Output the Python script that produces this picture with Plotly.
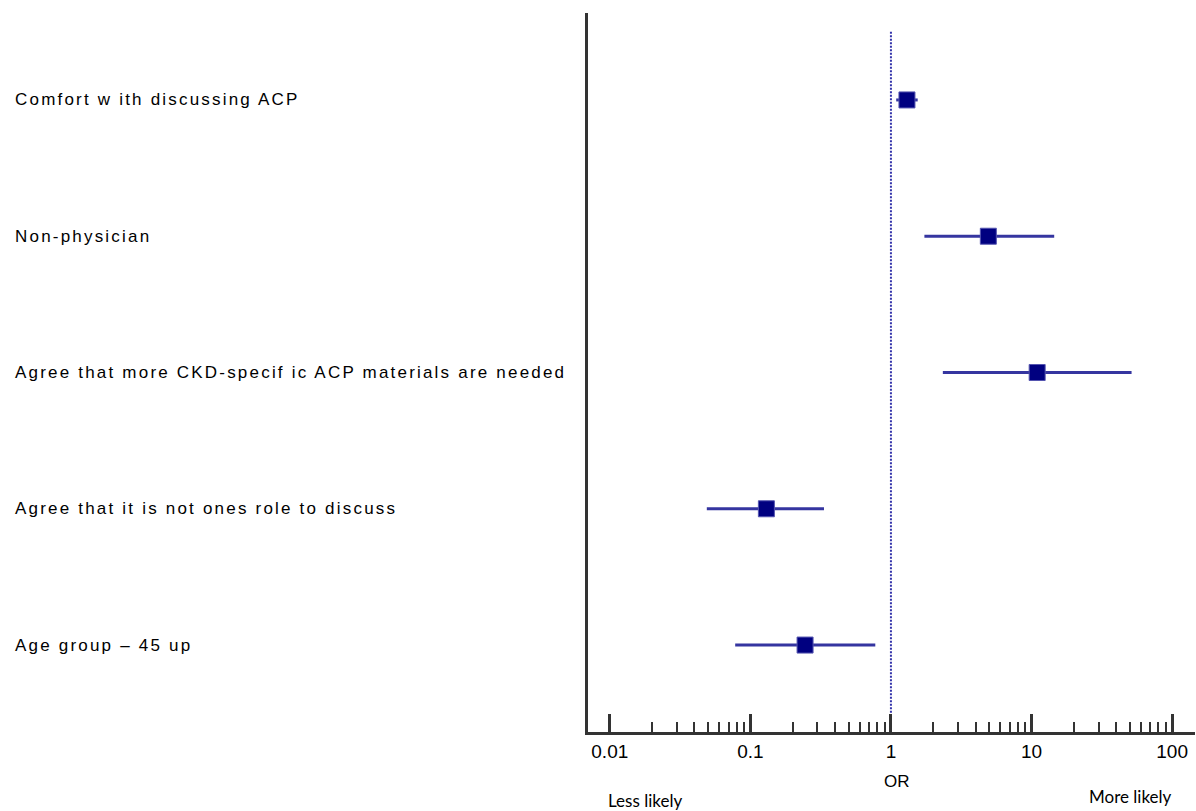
import plotly.graph_objects as go

# ---- data ----
labels = [
    "Comfort w ith discussing ACP",
    "Non-physician",
    "Agree that more CKD-specif ic ACP materials are needed",
    "Agree that it is not ones role to discuss",
    "Age group \u2013 45 up",
]
odds_ratio = [1.30, 4.93, 10.97, 0.130, 0.245]
ci_low = [1.09, 1.73, 2.34, 0.049, 0.078]
ci_high = [1.55, 14.5, 51.5, 0.334, 0.774]
row_pos = [5, 4, 3, 2, 1]

major_ticks = [0.01, 0.1, 1, 10, 100]
major_text = ["0.01", "0.1", "1", "10", "100"]
minor_ticks = [m * d for d in [0.01, 0.1, 1, 10] for m in range(2, 10)]
REF_OR = 1

AXIS_COL = "#333333"
BAR_COL = "#3535a0"
MARK_COL = "#000080"
LABEL_FONT = "Liberation Sans, Arial, sans-serif"

fig = go.Figure()

# reference line at OR = 1
fig.add_trace(go.Scatter(
    x=[REF_OR, REF_OR], y=[5.5, 0.362], mode="lines",
    line=dict(color="#3333aa", width=2, dash="2px,1.5px"),
    hoverinfo="skip", showlegend=False,
))

# CIs + point estimates
fig.add_trace(go.Scatter(
    x=odds_ratio, y=row_pos, mode="markers",
    marker=dict(symbol="square", size=16, color=MARK_COL,
                line=dict(color="#5555b0", width=1)),
    error_x=dict(type="data", symmetric=False,
                 array=[h - o for h, o in zip(ci_high, odds_ratio)],
                 arrayminus=[o - l for o, l in zip(odds_ratio, ci_low)],
                 color=BAR_COL, thickness=3, width=0),
    showlegend=False,
))

annotations = []
for lab, yv in zip(labels, row_pos):
    annotations.append(dict(
        text='<span style="letter-spacing:2.2px">' + lab + "</span>",
        x=-0.947, xref="paper", y=yv, yref="y",
        xanchor="left", yanchor="middle", showarrow=False,
        font=dict(family=LABEL_FONT, size=17, color="black"),
    ))

annotations.append(dict(text="OR", x=0.509, xref="paper", y=-0.0695, yref="paper",
                        xanchor="center", yanchor="middle", showarrow=False,
                        font=dict(family=LABEL_FONT, size=17, color="black")))
annotations.append(dict(text="Less likely", x=0.094, xref="paper", y=-0.0946, yref="paper",
                        xanchor="center", yanchor="middle", showarrow=False,
                        font=dict(family="Lato, sans-serif", size=17, color="black")))
annotations.append(dict(text="More likely", x=0.893, xref="paper", y=-0.0904, yref="paper",
                        xanchor="center", yanchor="middle", showarrow=False,
                        font=dict(family="Lato, sans-serif", size=17, color="black")))

fig.update_layout(
    width=1196, height=811,
    margin=dict(l=588, r=1, t=13, b=79),
    paper_bgcolor="white", plot_bgcolor="white",
    showlegend=False,
    annotations=annotations,
    xaxis=dict(
        type="log", range=[-2.155, 2.163],
        showline=True, linecolor=AXIS_COL, linewidth=3,
        ticks="inside", ticklen=18, tickwidth=3, tickcolor=AXIS_COL,
        tickmode="array", tickvals=major_ticks, ticktext=major_text,
        tickfont=dict(family=LABEL_FONT, size=19, color="black"),
        minor=dict(tickmode="array", tickvals=minor_ticks, ticks="inside",
                   ticklen=10, tickwidth=1.5, tickcolor=AXIS_COL, showgrid=False),
        showgrid=False, zeroline=False, fixedrange=True,
    ),
    yaxis=dict(
        range=[0.362, 5.638], showline=True, linecolor=AXIS_COL, linewidth=3,
        showticklabels=False, ticks="", showgrid=False, zeroline=False,
        fixedrange=True,
    ),
)

fig.write_html(
    "out.html",
    config={"displayModeBar": False},
    post_script="document.body.style.margin='0';document.body.style.overflow='hidden';",
)
